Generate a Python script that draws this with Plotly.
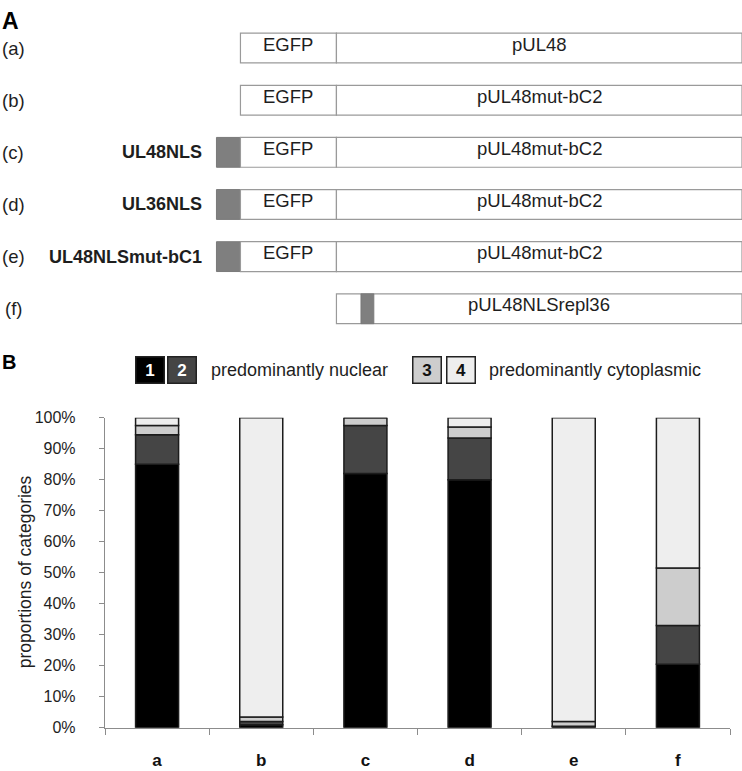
import plotly.graph_objects as go
import numpy as np

W, H = 742, 771

# ---------------- Panel A: construct schematic (arbitrary domain units) ----------------
rows = ["(a)", "(b)", "(c)", "(d)", "(e)", "(f)"]
nls_names = ["", "", "UL48NLS", "UL36NLS", "UL48NLSmut-bC1", ""]
has_nls = [False, False, True, True, True, False]
has_egfp = [True, True, True, True, True, False]
main_labels = ["pUL48", "pUL48mut-bC2", "pUL48mut-bC2", "pUL48mut-bC2",
               "pUL48mut-bC2", "pUL48NLSrepl36"]
nls_len = 1.0
egfp_len = 4.0
ul48_len = 16.9
repl_offset = 1.02   # start of replaced NLS inside pUL48 of construct (f)
repl_len = 0.54

# ---------------- Panel B: proportions of categories ----------------
cats = ["a", "b", "c", "d", "e", "f"]
cat1 = [85.0, 1.0, 82.0, 80.0, 0.5, 20.5]
cat2 = [9.5, 1.0, 15.5, 13.5, 0.0, 12.5]
cat3 = [3.0, 1.5, 2.5, 3.5, 1.5, 18.5]
cat4 = [2.5, 96.5, 0.0, 3.0, 98.0, 48.5]
cat_names = ["1", "2", "3", "4"]
cat_colors = ["#000000", "#454545", "#cdcdcd", "#eeeeee"]
legend_groups = ["predominantly nuclear", "predominantly cytoplasmic"]
y_ticks = list(range(0, 101, 10))


def px_x(p):
    return p / W


def px_y(p):
    return 1 - p / H


FONT = "Liberation Sans, Arial, sans-serif"
TXT = "#1e1e1e"

fig = go.Figure()

# ----- schematic bars (horizontal, overlay) -----
row_idx = list(range(len(rows)))
box_w = 0.572
outline = dict(color="#9a9a9a", width=1.2)

# NLS segments
fig.add_trace(go.Bar(
    y=[r for r, h in zip(row_idx, has_nls) if h],
    x=[nls_len for h in has_nls if h],
    base=[-nls_len for h in has_nls if h],
    orientation="h", width=box_w, xaxis="x2", yaxis="y2",
    marker=dict(color="#7f7f7f", line=dict(color="#7a7a7a", width=1)),
    hoverinfo="skip"))
# EGFP segments
fig.add_trace(go.Bar(
    y=[r for r, h in zip(row_idx, has_egfp) if h],
    x=[egfp_len for h in has_egfp if h],
    base=[0 for h in has_egfp if h],
    orientation="h", width=box_w, xaxis="x2", yaxis="y2",
    marker=dict(color="white", line=outline), hoverinfo="skip"))
# pUL48 segments
fig.add_trace(go.Bar(
    y=row_idx, x=[ul48_len] * len(rows), base=[egfp_len] * len(rows),
    orientation="h", width=box_w, xaxis="x2", yaxis="y2",
    marker=dict(color="white", line=outline), hoverinfo="skip"))
# replaced NLS inside (f)
fig.add_trace(go.Bar(
    y=[len(rows) - 1], x=[repl_len], base=[egfp_len + repl_offset],
    orientation="h", width=box_w, xaxis="x2", yaxis="y2",
    marker=dict(color="#7f7f7f", line=dict(color="#777777", width=0.8)),
    hoverinfo="skip"))

annotations = []
for i, r in enumerate(rows):
    annotations.append(dict(x=0 if i < 5 else px_x(3), xref="paper", y=i, yref="y2",
                            text=r, showarrow=False, xanchor="left", yanchor="middle",
                            font=dict(size=18.5, color=TXT, family=FONT), yshift=0))
    if nls_names[i]:
        annotations.append(dict(x=-nls_len, xref="x2", y=i, yref="y2",
                                text="<b>" + nls_names[i] + "</b>", showarrow=False,
                                xanchor="right", yanchor="middle", xshift=-12,
                                font=dict(size=18, color=TXT, family=FONT)))
    if has_egfp[i]:
        annotations.append(dict(x=egfp_len / 2, xref="x2", y=i, yref="y2",
                                text="EGFP", showarrow=False, yshift=4,
                                font=dict(size=18.5, color=TXT, family=FONT)))
    annotations.append(dict(x=egfp_len + ul48_len / 2, xref="x2", y=i, yref="y2",
                            text=main_labels[i], showarrow=False, yshift=4,
                            font=dict(size=18.5, color=TXT, family=FONT)))

# ----- stacked bars (panel B) -----
series = [cat1, cat2, cat3, cat4]
base = np.zeros(len(cats))
for name, vals, col in zip(cat_names, series, cat_colors):
    v = np.array(vals) / 100.0
    fig.add_trace(go.Bar(
        x=cats, y=v, base=base.copy(), width=0.413, name=name,
        marker=dict(color=col, line=dict(color="#1c1c1c", width=1.5)),
        xaxis="x", yaxis="y", hoverinfo="skip"))
    base = base + v

# panel letters
annotations.append(dict(x=0, y=px_y(-2), xref="paper", yref="paper", text="<b>A</b>",
                        showarrow=False, xanchor="left", yanchor="top",
                        font=dict(size=23, color="#000", family=FONT)))
annotations.append(dict(x=0, y=px_y(362), xref="paper", yref="paper", text="<b>B</b>",
                        showarrow=False, xanchor="left", yanchor="middle",
                        font=dict(size=20, color="#000", family=FONT)))

# legend boxes
box_centers = [150, 181.5, 426.5, 460.5]
text_colors = ["white", "white", "#111", "#111"]
for c, name, col, tc in zip(box_centers, cat_names, cat_colors, text_colors):
    annotations.append(dict(x=px_x(c), y=px_y(370.5), xref="paper", yref="paper",
                            text="<b>" + name + "</b>", showarrow=False,
                            xanchor="center", yanchor="middle", width=27, height=25,
                            bgcolor=col, bordercolor="#222", borderwidth=1.5, borderpad=0,
                            font=dict(size=17, color=tc, family=FONT)))
annotations.append(dict(x=px_x(209), y=px_y(370), xref="paper", yref="paper",
                        text=legend_groups[0], showarrow=False, xanchor="left",
                        yanchor="middle", font=dict(size=18, color=TXT, family=FONT)))
annotations.append(dict(x=px_x(487), y=px_y(370), xref="paper", yref="paper",
                        text=legend_groups[1], showarrow=False, xanchor="left",
                        yanchor="middle", font=dict(size=18, color=TXT, family=FONT)))
# y axis title
annotations.append(dict(x=px_x(25), y=px_y(577), xref="paper", yref="paper",
                        text="proportions of categories", textangle=-90, showarrow=False,
                        xanchor="center", yanchor="middle",
                        font=dict(size=17.5, color=TXT, family=FONT)))

fig.update_layout(
    width=W, height=H, margin=dict(l=0, r=0, t=0, b=0),
    paper_bgcolor="white", plot_bgcolor="white", showlegend=False,
    barmode="overlay", annotations=annotations,
    font=dict(family=FONT, color=TXT),
    xaxis=dict(domain=[px_x(105), px_x(730)], type="category", categoryorder="array",
               categoryarray=cats, range=[-0.5, 5.5], showline=True, linecolor="#8c8c8c",
               linewidth=1.2, ticks="outside", tickson="boundaries", ticklen=6,
               tickcolor="#8c8c8c", tickwidth=1, showgrid=False, zeroline=False,
               tickfont=dict(size=17, color="#111", family=FONT, weight="bold"),
               ticklabelstandoff=17, fixedrange=True),
    yaxis=dict(domain=[px_y(736), px_y(419)], range=[0, 1], tickvals=[t / 100 for t in y_ticks],
               ticktext=[f"{t}%" for t in y_ticks], showline=True, linecolor="#8c8c8c",
               linewidth=1.2, ticks="outside", ticklen=5, tickcolor="#8c8c8c",
               showgrid=False, zeroline=False, ticklabelstandoff=20,
               tickfont=dict(size=16, color=TXT, family=FONT), fixedrange=True),
    xaxis2=dict(domain=[0, 1], range=[-10.02, 20.9], visible=False, anchor="y2",
                fixedrange=True),
    yaxis2=dict(domain=[px_y(334.2), px_y(14.3)], range=[5.5, -0.5], visible=False,
                anchor="x2", fixedrange=True),
)

fig.write_html("out.html", config={"displayModeBar": False, "staticPlot": True},
               post_script="document.body.style.margin='0';document.body.style.overflow='hidden';")
